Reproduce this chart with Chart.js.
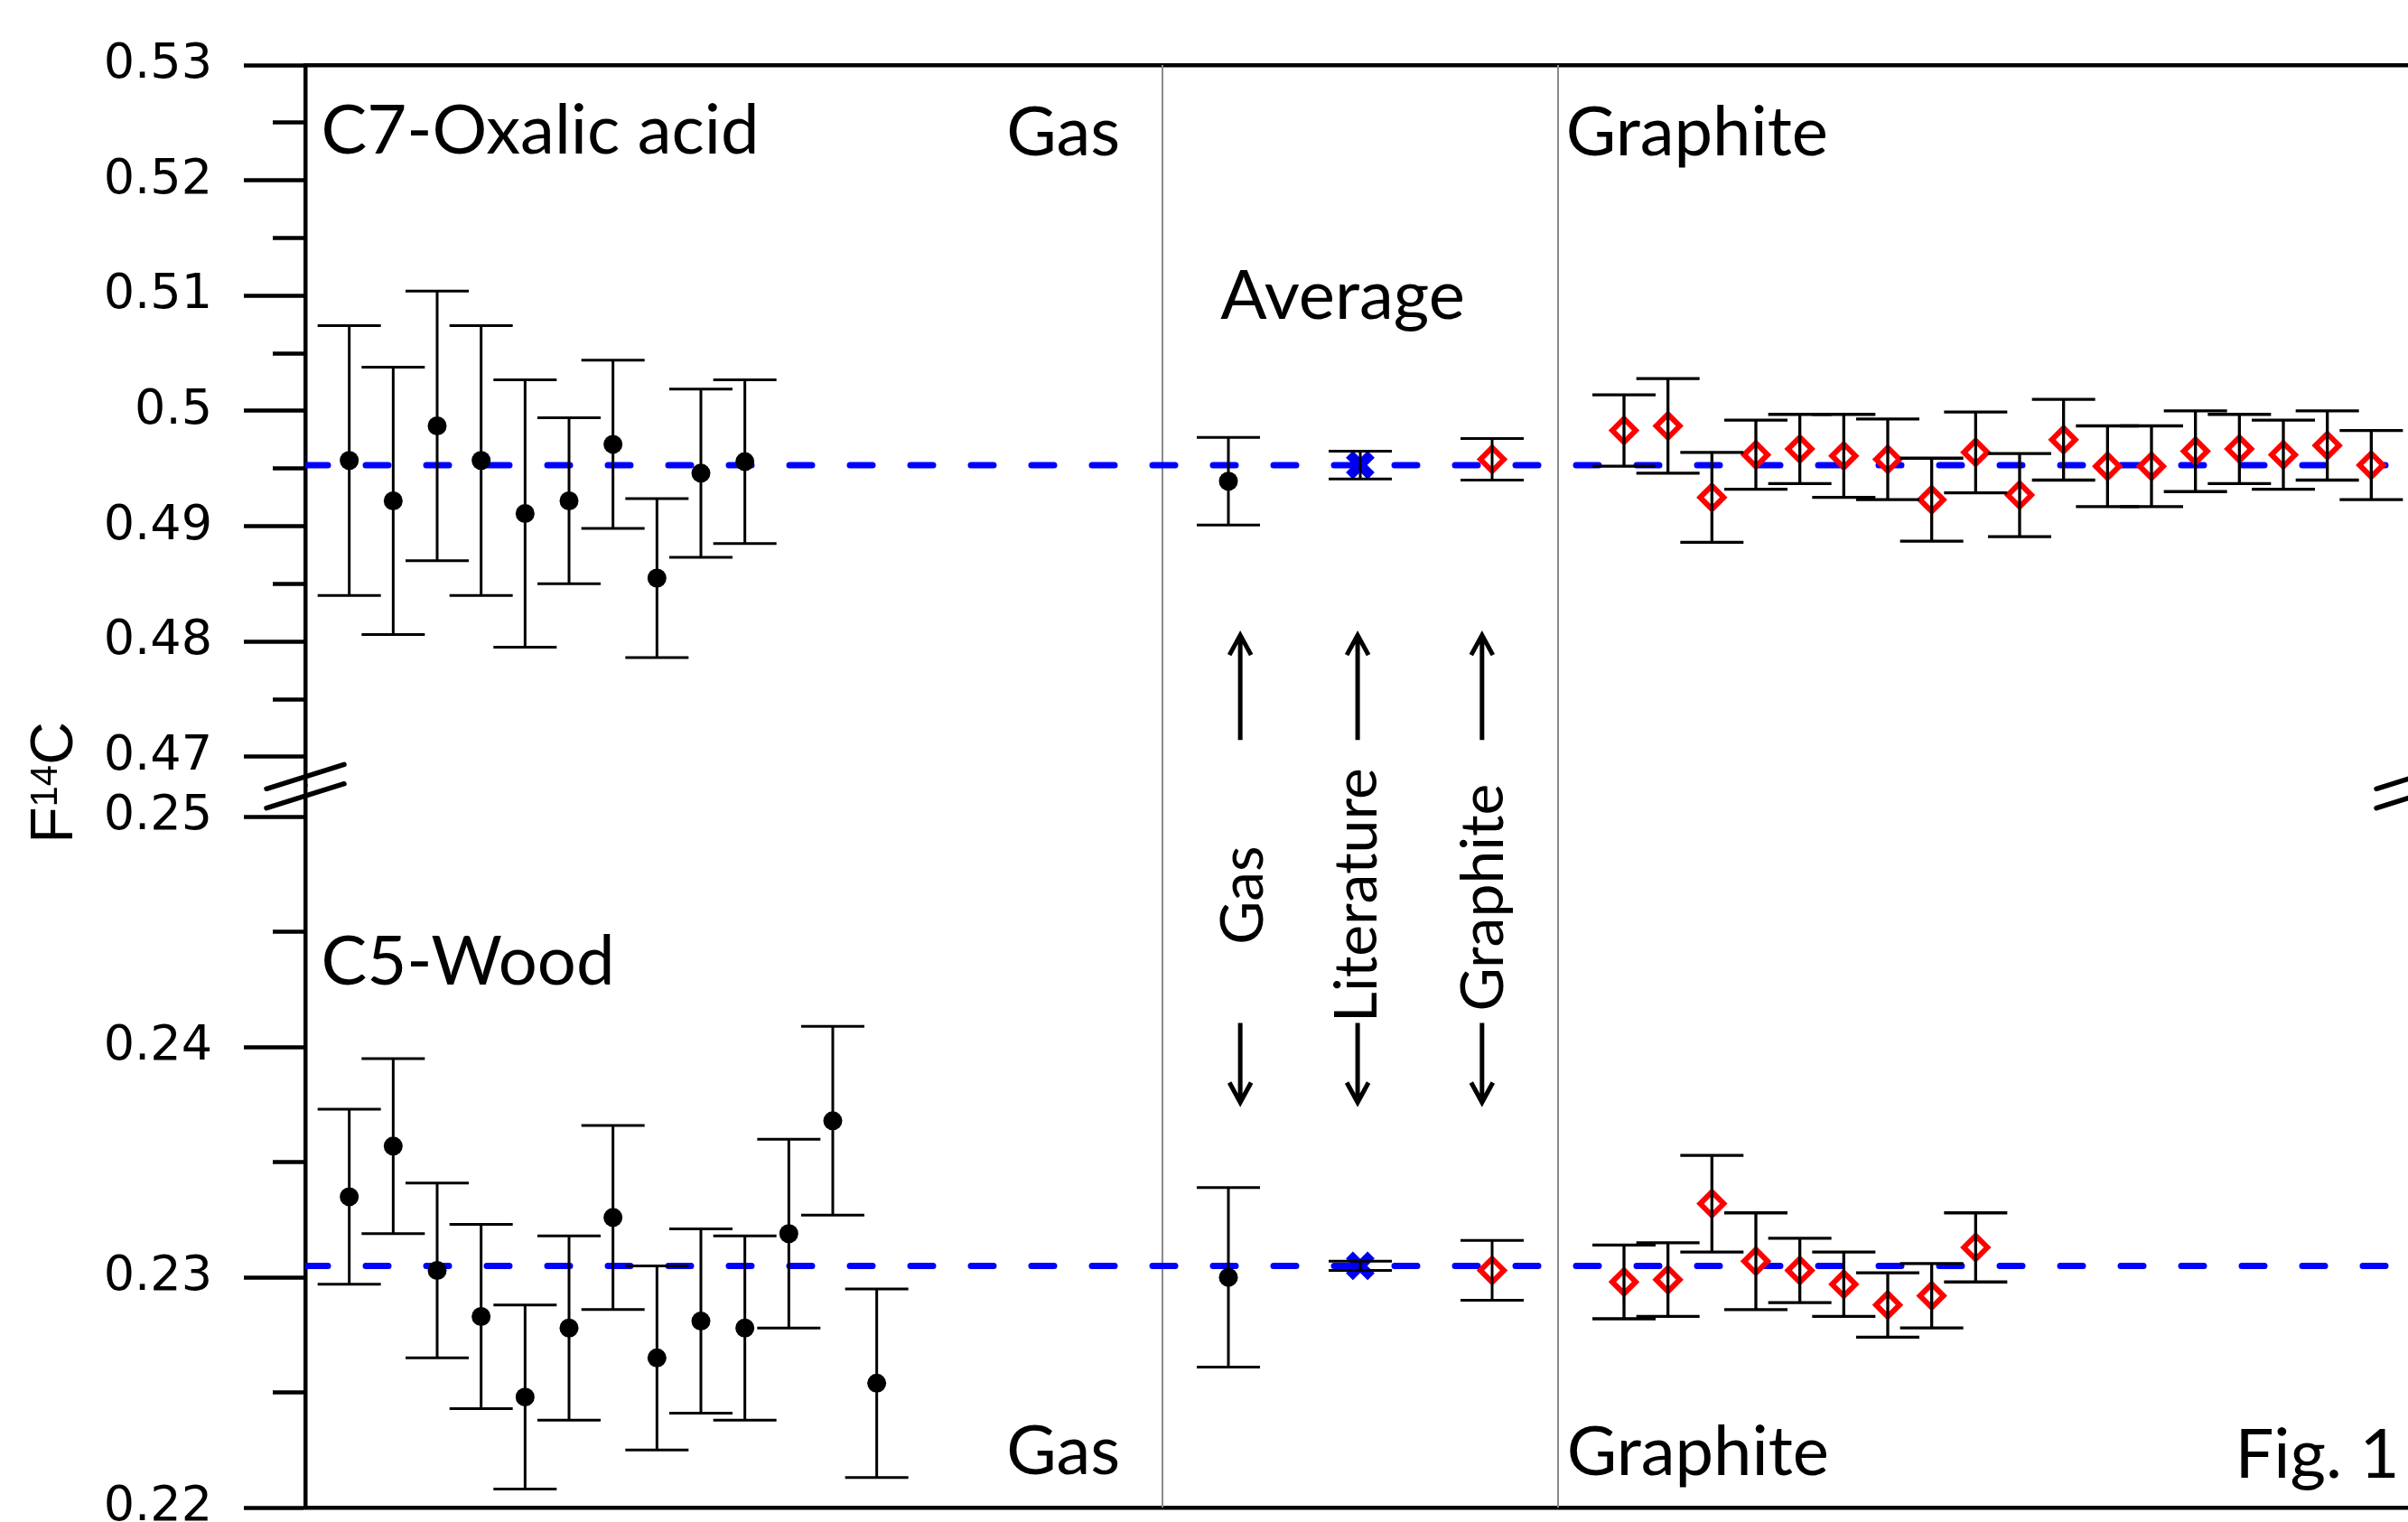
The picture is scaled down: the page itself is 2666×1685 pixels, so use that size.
<!DOCTYPE html>
<html>
<head>
<meta charset="utf-8">
<title>F14C of C7 oxalic acid and C5 wood</title>
<script src="https://cdn.jsdelivr.net/npm/chart.js@4.4.1/dist/chart.umd.min.js"></script>
<style>
  html, body { margin: 0; padding: 0; background: #fff; overflow: hidden; }
  #wrap { width: 2720px; height: 1740px; }
</style>
</head>
<body>
<div id="wrap"><canvas id="fig" width="2720" height="1740"></canvas></div>
<script>
// sample positions along the (unlabelled) x axis
const c7GasX = [1, 2, 3, 4, 5, 6, 7, 8, 9, 10];
const c5GasX = [1, 2, 3, 4, 5, 6, 7, 8, 9, 10, 11, 12, 13];
const avgX = [21, 24, 27];               // gas average, literature, graphite average
const c7GraphX = [30, 31, 32, 33, 34, 35, 36, 37, 38, 39, 40, 41, 42, 43, 44, 45, 46, 47];
const c5GraphX = [30, 31, 32, 33, 34, 35, 36, 37, 38];

// C7 oxalic acid
const c7Gas = [0.4957, 0.4922, 0.4987, 0.4957, 0.4911, 0.4922, 0.4971, 0.4855, 0.4946, 0.4956];
const c7GasErr = [0.0117, 0.0116, 0.0117, 0.0117, 0.0116, 0.0072, 0.0073, 0.0069, 0.0073, 0.0071];
const c7Avg = [0.4939, 0.4953, 0.4958];
const c7AvgErr = [0.0038, 0.0012, 0.0018];
const c7Graph = [0.4983, 0.4987, 0.4925, 0.4962, 0.4967, 0.4961, 0.4958, 0.4923, 0.4964,
                 0.4927, 0.4975, 0.4952, 0.4952, 0.4965, 0.4967, 0.4962, 0.4970, 0.4953];
const c7GraphErr = [0.0031, 0.0041, 0.0039, 0.0030, 0.0030, 0.0036, 0.0035, 0.0036, 0.0035,
                    0.0036, 0.0035, 0.0035, 0.0035, 0.0035, 0.0030, 0.0030, 0.0030, 0.0030];
const c7Ref = 0.4953;

// C5 wood
const c5Gas = [0.2335, 0.2357, 0.2303, 0.2283, 0.2248, 0.2278, 0.2326, 0.2265, 0.2281, 0.2278, 0.2319, 0.2368, 0.2254];
const c5GasErr = [0.0038, 0.0038, 0.0038, 0.0040, 0.0040, 0.0040, 0.0040, 0.0040, 0.0040, 0.0040, 0.0041, 0.0041, 0.0041];
const c5Avg = [0.2300, 0.2305, 0.2303];
const c5AvgErr = [0.0039, 0.0002, 0.0013];
const c5Graph = [0.2298, 0.2299, 0.2332, 0.2307, 0.2303, 0.2297, 0.2288, 0.2292, 0.2313];
const c5GraphErr = [0.0016, 0.0016, 0.0021, 0.0021, 0.0014, 0.0014, 0.0014, 0.0014, 0.0015];
const c5Ref = 0.2305;

// y tick values and labels (blank label = minor tick)
const upperTicks = [0.47, 0.475, 0.48, 0.485, 0.49, 0.495, 0.5, 0.505, 0.51, 0.515, 0.52, 0.525, 0.53];
const upperTickLabels = ['0.47', '', '0.48', '', '0.49', '', '0.5', '', '0.51', '', '0.52', '', '0.53'];
const lowerTicks = [0.22, 0.225, 0.23, 0.235, 0.24, 0.245, 0.25];
const lowerTickLabels = ['0.22', '', '0.23', '', '0.24', '', '0.25'];

const xRange = [0, 48];
const panelEdges = [19.5, 28.5];

// text on the figure (x in sample units, y in F14C on the given axis)
const notes = [
  { text: 'C7-Oxalic acid', x: 0.36, y: 0.5223, axis: 'yHigh' },
  { text: 'Gas', x: 15.95, y: 0.5222, axis: 'yHigh' },
  { text: 'Graphite', x: 28.68, y: 0.5222, axis: 'yHigh' },
  { text: 'Average', x: 20.82, y: 0.5080, axis: 'yHigh' },
  { text: 'C5-Wood', x: 0.36, y: 0.2427, axis: 'yLow' },
  { text: 'Gas', x: 15.95, y: 0.22145, axis: 'yLow' },
  { text: 'Graphite', x: 28.7, y: 0.2214, axis: 'yLow' },
  { text: 'Fig. 1', x: 43.9, y: 0.2213, axis: 'yLow' }
];
const sideNotes = [
  { text: 'Gas', x: 21.78, y: 0.2466 },
  { text: 'Literature', x: 24.37, y: 0.2466 },
  { text: 'Graphite', x: 27.24, y: 0.2465 }
];
const arrowX = [21.27, 23.94, 26.77];
const arrowUp = [0.47146, 0.48055];      // on upper axis: tail, tip
const arrowDown = [0.24105, 0.2376];     // on lower axis: tail, tip

const pts = (xs, ys) => xs.map((x, i) => ({ x, y: ys[i] }));

const errorBars = {
  id: 'errorBars',
  afterDatasetsDraw(chart) {
    const ctx = chart.ctx;
    chart.data.datasets.forEach((ds, di) => {
      if (!ds.errors) return;
      const meta = chart.getDatasetMeta(di);
      const ys = chart.scales[ds.yAxisID];
      ctx.save();
      ctx.strokeStyle = '#000';
      ctx.lineWidth = ds.errorWidth;
      meta.data.forEach((pt, i) => {
        const v = ds.data[i].y, e = ds.errors[i];
        const top = ys.getPixelForValue(v + e);
        const bot = ys.getPixelForValue(v - e);
        const x = pt.x, w = 35;
        ctx.beginPath();
        ctx.moveTo(x, top); ctx.lineTo(x, bot);
        ctx.moveTo(x - w, top); ctx.lineTo(x + w, top);
        ctx.moveTo(x - w, bot); ctx.lineTo(x + w, bot);
        ctx.stroke();
      });
      ctx.restore();
    });
  }
};

const panels = {
  id: 'panels',
  beforeDatasetsDraw(chart) {
    const { ctx, chartArea, scales } = chart;
    ctx.save();
    ctx.strokeStyle = '#8a8a8a';
    ctx.lineWidth = 2;
    panelEdges.forEach(v => {
      const x = scales.x.getPixelForValue(v);
      ctx.beginPath();
      ctx.moveTo(x, chartArea.top);
      ctx.lineTo(x, chartArea.bottom);
      ctx.stroke();
    });
    ctx.restore();
  }
};

function drawArrow(ctx, x, y0, y1) {
  const dir = y1 < y0 ? 1 : -1;
  ctx.beginPath();
  ctx.moveTo(x, y0); ctx.lineTo(x, y1);
  ctx.moveTo(x - 12, y1 + dir * 22); ctx.lineTo(x, y1); ctx.lineTo(x + 12, y1 + dir * 22);
  ctx.stroke();
}

const decorations = {
  id: 'decorations',
  afterDraw(chart) {
    const { ctx, chartArea, scales } = chart;
    const xs = scales.x;
    ctx.save();

    // axis break marks
    const cy = scales.yHigh.bottom;
    ctx.strokeStyle = '#000';
    ctx.lineWidth = 5.5;
    ctx.lineCap = 'round';
    [chartArea.left, chartArea.right].forEach(cx => {
      [-10.7, 10.7].forEach(off => {
        ctx.beginPath();
        ctx.moveTo(cx - 43, cy + off + 13.5);
        ctx.lineTo(cx + 43, cy + off - 13.5);
        ctx.stroke();
      });
    });

    // arrows
    ctx.lineCap = 'butt';
    ctx.lineWidth = 5;
    arrowX.forEach(v => {
      const x = xs.getPixelForValue(v);
      drawArrow(ctx, x, scales.yHigh.getPixelForValue(arrowUp[0]), scales.yHigh.getPixelForValue(arrowUp[1]));
      drawArrow(ctx, x, scales.yLow.getPixelForValue(arrowDown[0]), scales.yLow.getPixelForValue(arrowDown[1]));
    });

    // labels
    ctx.fillStyle = '#000';
    ctx.font = '76px Lato';
    ctx.textAlign = 'left';
    ctx.textBaseline = 'alphabetic';
    notes.forEach(n => {
      ctx.fillText(n.text, xs.getPixelForValue(n.x), scales[n.axis].getPixelForValue(n.y));
    });
    ctx.font = '66px Lato';
    ctx.textAlign = 'center';
    sideNotes.forEach(n => {
      ctx.save();
      ctx.translate(xs.getPixelForValue(n.x), scales.yLow.getPixelForValue(n.y));
      ctx.rotate(-Math.PI / 2);
      ctx.fillText(n.text, 0, 0);
      ctx.restore();
    });

    // y axis title F14C
    ctx.save();
    ctx.translate(chartArea.left - 258, cy - 4);
    ctx.rotate(-Math.PI / 2);
    ctx.textAlign = 'left';
    const big = '66px "Liberation Sans"', small = '42px "Liberation Sans"';
    ctx.font = big;
    const wF = ctx.measureText('F').width, wC = ctx.measureText('C').width;
    ctx.font = small;
    const w14 = ctx.measureText('14').width;
    let tx = -(wF + w14 + wC) / 2;
    ctx.font = big;
    ctx.fillText('F', tx, 0); tx += wF;
    ctx.font = small;
    ctx.fillText('14', tx, -17); tx += w14;
    ctx.font = big;
    ctx.fillText('C', tx, 0);
    ctx.restore();

    ctx.restore();
  }
};

function yAxis(min, max, ticks, labels, weight) {
  return {
    type: 'linear',
    position: 'left',
    stack: 'f14c',
    stackWeight: 1,
    weight,
    min,
    max,
    afterBuildTicks: s => { s.ticks = ticks.map(value => ({ value })); },
    afterFit: s => { s.width = 338; },
    border: { display: true, color: '#000', width: 4.5 },
    grid: {
      drawOnChartArea: false,
      drawTicks: true,
      tickLength: 68,
      tickWidth: 4.5,
      tickColor: '#000',
      tickBorderDash: c => (labels[c.index] === '' ? [0, 32, 90] : [])
    },
    ticks: {
      autoSkip: false,
      padding: 35,
      color: '#000',
      font: { family: '"DejaVu Sans"', size: 54 },
      callback: (v, i) => labels[i]
    }
  };
}

function xAxis(position) {
  return {
    type: 'linear',
    position,
    min: xRange[0],
    max: xRange[1],
    afterFit: s => { s.height = 0; },
    border: { display: true, color: '#000', width: 4.5 },
    grid: { display: false },
    ticks: { display: false }
  };
}

const avgStyle = {
  pointStyle: ['circle', 'crossRot', 'rectRot'],
  pointRadius: [10.5, 17, 13],
  backgroundColor: ['#000', '#0000ee', '#fff'],
  borderColor: ['#000', '#0000f0', '#ff0000'],
  borderWidth: [0, 11, 6]
};

function draw() {
  new Chart(document.getElementById('fig'), {
    type: 'scatter',
    data: {
      datasets: [
        {
          type: 'line', label: 'C7 reference', yAxisID: 'yHigh', order: 10,
          data: [{ x: xRange[0], y: c7Ref }, { x: xRange[1], y: c7Ref }],
          showLine: true, borderColor: '#0000ff', borderWidth: 7, borderDash: [25, 42],
          borderCapStyle: 'round', pointRadius: 0, fill: false
        },
        {
          type: 'line', label: 'C5 reference', yAxisID: 'yLow', order: 10,
          data: [{ x: xRange[0], y: c5Ref }, { x: xRange[1], y: c5Ref }],
          showLine: true, borderColor: '#0000ff', borderWidth: 7, borderDash: [25, 42],
          borderCapStyle: 'round', pointRadius: 0, fill: false
        },
        {
          label: 'C7 gas', yAxisID: 'yHigh', data: pts(c7GasX, c7Gas), errors: c7GasErr, errorWidth: 3,
          pointStyle: 'circle', pointRadius: 10.5, backgroundColor: '#000', borderWidth: 0
        },
        {
          label: 'C5 gas', yAxisID: 'yLow', data: pts(c5GasX, c5Gas), errors: c5GasErr, errorWidth: 3,
          pointStyle: 'circle', pointRadius: 10.5, backgroundColor: '#000', borderWidth: 0
        },
        Object.assign({
          label: 'C7 average', yAxisID: 'yHigh', data: pts(avgX, c7Avg), errors: c7AvgErr, errorWidth: 3
        }, avgStyle),
        Object.assign({
          label: 'C5 average', yAxisID: 'yLow', data: pts(avgX, c5Avg), errors: c5AvgErr, errorWidth: 3
        }, avgStyle),
        {
          label: 'C7 graphite', yAxisID: 'yHigh', data: pts(c7GraphX, c7Graph), errors: c7GraphErr, errorWidth: 3.3,
          pointStyle: 'rectRot', pointRadius: 13, backgroundColor: '#fff', borderColor: '#ff0000', borderWidth: 6
        },
        {
          label: 'C5 graphite', yAxisID: 'yLow', data: pts(c5GraphX, c5Graph), errors: c5GraphErr, errorWidth: 3.3,
          pointStyle: 'rectRot', pointRadius: 13, backgroundColor: '#fff', borderColor: '#ff0000', borderWidth: 6
        }
      ]
    },
    options: {
      responsive: false,
      devicePixelRatio: 1,
      animation: false,
      events: [],
      layout: { padding: { left: 0, top: 72, right: 46, bottom: 71 } },
      plugins: { legend: { display: false }, tooltip: { enabled: false } },
      scales: {
        x: xAxis('bottom'),
        x2: xAxis('top'),
        yLow: yAxis(0.22, 0.25133, lowerTicks, lowerTickLabels, 1),
        yHigh: yAxis(0.46744, 0.53, upperTicks, upperTickLabels, 2)
      }
    },
    plugins: [panels, errorBars, decorations]
  });
}

Promise.all([
  document.fonts.load('76px Lato'),
  document.fonts.load('54px "DejaVu Sans"'),
  document.fonts.load('66px "Liberation Sans"')
]).then(draw, draw);
</script>
</body>
</html>
